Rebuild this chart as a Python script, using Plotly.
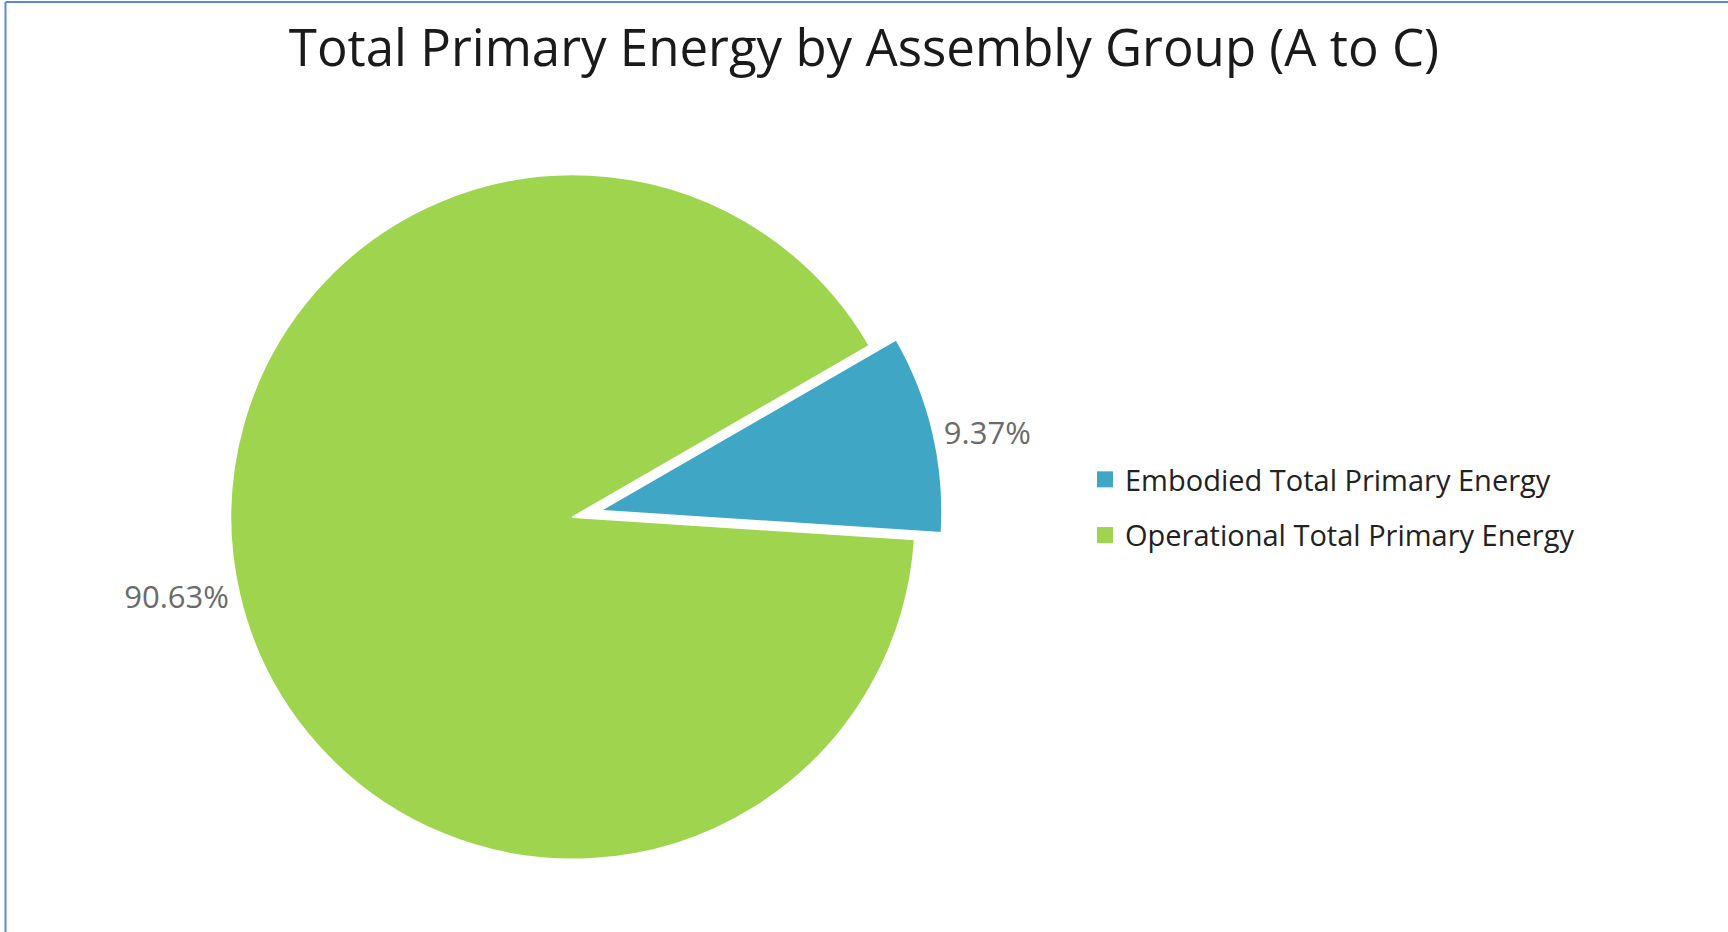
import plotly.graph_objects as go

# Share of total primary energy, life-cycle stages A to C
labels = ["Embodied Total Primary Energy", "Operational Total Primary Energy"]
shares = [9.37, 90.63]
colors = ["#3fa6c6", "#9fd44f"]
pulls = [0.08, 0.0]

W, H = 1728, 932
FONT = "Open Sans"

fig = go.Figure()

fig.add_trace(go.Pie(
    labels=labels,
    values=shares,
    sort=False,
    direction="clockwise",
    rotation=60,
    pull=pulls,
    marker=dict(colors=colors, line=dict(color="white", width=2)),
    texttemplate="%{percent:.2%}",
    textposition="outside",
    textfont=dict(family=FONT, size=31, color="#6b6b6b"),
    showlegend=False,
    hoverinfo="label+percent",
    domain=dict(x=[203 / W, 943 / W], y=[1 - 887 / H, 1 - 147 / H]),
))

# Legend entries with larger square swatches
for i, (name, col) in enumerate(zip(labels, colors)):
    fig.add_trace(go.Scatter(
        x=[None], y=[None], mode="markers", name=name,
        marker=dict(symbol="square", size=16, color=col),
        legendgroup=f"g{i}", showlegend=True, hoverinfo="skip",
    ))

fig.update_layout(
    width=W, height=H,
    margin=dict(l=0, r=0, t=0, b=0),
    paper_bgcolor="white",
    plot_bgcolor="white",
    title=dict(
        text="Total Primary Energy by Assembly Group (A to C)",
        x=0.5, xanchor="center",
        y=1 - 48 / H, yanchor="middle",
        yref="container",
        font=dict(family=FONT, size=51, color="#1a1a1a"),
    ),
    xaxis=dict(visible=False),
    yaxis=dict(visible=False),
    showlegend=True,
    legend=dict(
        x=1085 / W, xanchor="left",
        y=1 - 454 / H, yanchor="top",
        font=dict(family=FONT, size=29, color="#222222"),
        tracegroupgap=15,
        bgcolor="rgba(0,0,0,0)",
        itemclick=False,
    ),
    shapes=[
        dict(type="line", xref="paper", yref="paper",
             x0=5.5 / W, x1=5.5 / W, y0=0, y1=1 - 2 / H,
             line=dict(color="#5b8bd8", width=2)),
        dict(type="line", xref="paper", yref="paper",
             x0=5.5 / W, x1=1, y0=1 - 2 / H, y1=1 - 2 / H,
             line=dict(color="#5b8bd8", width=2)),
    ],
)

fig.write_html("out.html")
